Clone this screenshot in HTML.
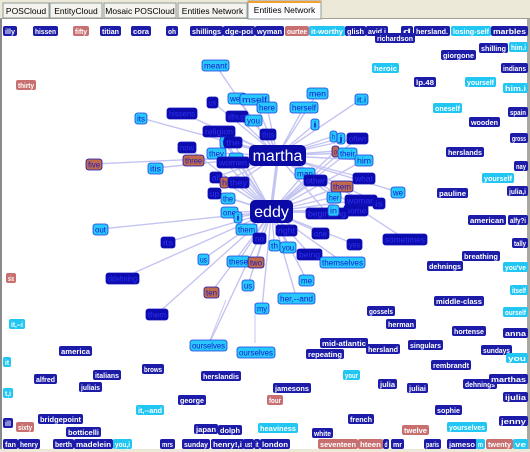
<!DOCTYPE html>
<html><head><meta charset="utf-8"><style>
html,body{margin:0;padding:0;background:#ece9d8;}
svg{display:block;font-family:"Liberation Sans",sans-serif;}
</style></head><body>
<svg id="s" width="530" height="452" viewBox="0 0 530 452">
<rect x="0" y="0" width="530" height="452" fill="#ece9d8"/>
<rect x="2" y="19" width="525" height="430" fill="#ffffff"/>
<rect x="0" y="19" width="2" height="430" fill="#8a8a8a"/>
<rect x="527" y="19" width="3" height="430" fill="#a8a8a0"/>
<line x1="0" y1="18.5" x2="530" y2="18.5" stroke="#a0a090"/>
<g id="tabs"></g>
<g id="edges"></g>
<g id="nodes"></g>
</svg>
<script>
const tabLabels=["POSCloud","EntityCloud","Mosaic POSCloud","Entities Network","Entities Network"];
const tabX=[3,50,104,178,248];
const tabW=[46,52,72,69,73];
// outer nodes: label, x, y, w, type (d dark, c cyan, r red)
const outerNodes=[
["illy",3,26,14,"d"],["hissen",33,26,25,"d"],["fifty",73,26,16,"r"],["titian",100,26,21,"d"],["cora",131,26,20,"d"],["oh",166,26,12,"d"],["shillings",190,26,33,"d"],["dge-poi",223,26,32,"d"],["wyman",255,26,29,"d"],["ourtee",285,26,24,"r"],["it-worthy",309,26,36,"c"],["glish",345,26,21,"d"],["avid i",366,26,22,"d"],["d",401,26,12,"d"],["hersland.",414,26,36,"d"],["losing-self",451,26,40,"c"],["marbles",491,26,37,"d"],
["richardson",375,33,40,"d"],["shilling",479,43,29,"d"],["him.i",509,42,19,"c"],["giorgone",441,50,35,"d"],["indians",501,63,27,"d"],["heroic",372,63,27,"c"],["lp.48",414,77,22,"d"],["yourself",465,77,31,"c"],["him.i",503,83,25,"c"],["thirty",16,80,20,"r"],["oneself",433,103,29,"c"],["spain",508,107,20,"d"],["wooden",469,117,31,"d"],["gross",510,133,18,"d"],["herslands",446,147,38,"d"],["nay",514,161,14,"d"],["yourself",482,173,32,"c"],["julia,i",507,186,21,"d"],["pauline",437,188,31,"d"],["american",468,215,38,"d"],["alfy?i",508,215,20,"d"],["tally",512,238,16,"d"],["breathing",462,251,38,"d"],["dehnings",427,261,36,"d"],["you've",503,262,25,"c"],["itself",510,285,18,"c"],["six",6,273,10,"r"],["middle-class",434,296,50,"d"],["ourself",503,307,25,"c"],["gossels",367,306,28,"d"],["herman",386,319,30,"d"],["hortense",452,326,34,"d"],["anna",503,328,25,"d"],["mid-atlantic",320,338,48,"d"],["hersland",366,344,34,"d"],["singulars",408,340,35,"d"],["sundays",481,345,31,"d"],["you",506,353,22,"c"],["repeating",306,349,38,"d"],["rembrandt",431,360,40,"d"],["your",343,370,17,"c"],["julia",378,379,19,"d"],["juliai",407,383,21,"d"],["dehnings",463,379,34,"d"],["marthas",489,374,39,"d"],["jamesons",273,383,38,"d"],["four",267,395,16,"r"],["ijulia",503,392,25,"d"],["sophie",435,405,27,"d"],["french",348,414,26,"d"],["jenny",499,416,29,"d"],["twelve",402,425,27,"r"],["yourselves",447,422,40,"c"],["heaviness",258,423,40,"c"],["white",312,428,21,"d"],["japan",194,424,24,"d"],["dolph",218,425,24,"d"],["it,--and",136,405,28,"c"],["george",178,395,28,"d"],["herslandis",201,371,40,"d"],["brows",142,364,22,"d"],["italians",93,370,28,"d"],["juliais",79,382,23,"d"],["alfred",34,374,23,"d"],["america",59,346,33,"d"],["it,--i",9,319,16,"c"],["it",3,357,8,"c"],["t,i",3,388,10,"c"],["bridgepoint",38,414,45,"d"],["sixty",16,422,18,"r"],["ill",3,418,10,"d"],["botticelli",66,427,35,"d"],
["fan",3,439,15,"d"],["henry",18,439,22,"d"],["berth",53,439,21,"d"],["madelein",74,439,39,"d"],["you,i",113,439,19,"c"],["mrs",160,439,15,"d"],["sunday",182,439,28,"d"],["henry!,i",211,439,33,"d"],["ust",243,439,11,"d"],["it",254,439,6,"d"],["london",260,439,30,"d"],["seventeen",318,439,40,"r"],["hteen",358,439,25,"r"],["d",383,439,6,"d"],["mr",391,439,13,"d"],["paris",424,439,17,"d"],["jameso",447,439,30,"d"],["m",476,439,9,"c"],["twenty",486,439,27,"r"],["ve",513,439,15,"c"]
];
// inner network nodes: label, x, y, w, type, linkedTo (m martha, e eddy, b both, n none)
const innerNodes=[
["meant",202,60,27,"c","m"],["us",207,97,11,"d","m"],["well",228,93,18,"c","m"],["mself",240,94,29,"c","m"],["here",257,102,20,"c","m"],["men",307,88,21,"c","m"],["herself",290,102,28,"c","m"],["it.i",355,94,13,"c","m"],["hissens",167,108,30,"d","m"],["its",135,113,12,"c","m"],["although",226,111,22,"d","m"],["you",245,115,17,"c","m"],["i",311,119,8,"c","m"],["religion",203,126,32,"d","b"],["this",260,129,16,"d","m"],["h",330,131,7,"c","m"],["j",337,133,8,"c","m"],["often",347,133,21,"d","b"],["t",220,137,8,"c","b"],["the",224,137,18,"d","b"],["now",178,142,18,"d","e"],["they",207,148,19,"c","b"],["three",183,155,21,"r","m"],["five",86,159,16,"r","m"],["itis",148,163,15,"c","m"],["o",229,153,14,"c","b"],["women",217,157,32,"d","b"],["o",332,146,7,"r","b"],["their",338,148,19,"c","b"],["him",355,155,18,"c","b"],["all",210,172,12,"d","b"],["h",220,177,9,"r","b"],["they",228,177,21,"d","b"],["man",295,168,20,"c","b"],["other",304,175,23,"d","b"],["what",353,173,22,"d","b"],["them",331,181,22,"r","b"],["up",208,188,13,"d","e"],["the",221,193,14,"c","e"],["her",327,192,14,"c","b"],["woman",345,195,32,"d","b"],["is",373,198,12,"d","m"],["some",344,205,24,"d","e"],["we",391,187,14,"c","m"],["beginning",306,208,42,"d","b"],["in",328,205,11,"c","e"],["one",221,207,17,"c","e"],["i",234,212,8,"c","e"],["out",93,224,15,"c","e"],["them",236,224,21,"c","e"],["right",276,225,21,"d","e"],["one",312,228,17,"d","e"],["sometimes",383,234,44,"d","m"],["its",161,237,14,"d","e"],["no",253,233,13,"d","e"],["th",269,240,11,"c","e"],["you",280,242,16,"c","e"],["yes",347,239,15,"d","e"],["being",297,249,25,"d","e"],["themselves",320,257,45,"c","e"],["us",198,254,11,"c","e"],["these",227,256,23,"c","e"],["two",248,257,16,"r","e"],["ddehning",106,273,33,"d","e"],["us",242,280,12,"c","e"],["me",299,275,15,"c","e"],["ten",204,287,15,"r","e"],["her,--and",278,293,37,"c","e"],["them",146,309,22,"d","e"],["my",255,303,14,"c","e"],["ourselves",190,340,37,"c","e"],["ourselves",237,347,38,"c","n"]
];
const hubs=[["martha",249,145,57,21],["eddy",250,200,43,23]];
const NS="http://www.w3.org/2000/svg";
function mk(tag,attrs,parent){const e=document.createElementNS(NS,tag);for(const k in attrs)e.setAttribute(k,attrs[k]);parent.appendChild(e);return e;}
const gT=document.getElementById('tabs'),gE=document.getElementById('edges'),gN=document.getElementById('nodes');
tabLabels.forEach((t,i)=>{
  const active=i===4;
  const g=mk('g',{},gT);
  
  
  const y=active?1:3;
  mk('rect',{x:tabX[i],y:y,width:tabW[i],height:active?18:15,fill:active?'#fcfcfe':'#f4f3ee',stroke:'#919b9c','stroke-width':1},g);
  if(active)mk('rect',{x:tabX[i],y:1,width:tabW[i],height:2,fill:'#f0a030'},g);
  const tx=mk('text',{x:tabX[i]+tabW[i]/2,y:active?13:14,'font-size':8.5,'text-anchor':'middle',fill:'#000'},g);
  tx.textContent=t;
});
// edges
innerNodes.forEach(n=>{
  const cx=n[1]+n[3]/2, cy=n[2]+5;
  const targets=n[5]==='m'?[0]:n[5]==='e'?[1]:n[5]==='b'?[0,1]:[];
  targets.forEach(h=>{
    const H=hubs[h];
    const l=mk('line',{x1:H[1]+H[3]/2,y1:H[2]+H[4]/2,x2:cx,y2:cy,stroke:'#c4c4f2','stroke-width':1.4},gE);
    
    
  });
});
[[255,303,255,343],[210,340,226,300]].forEach(p=>{mk('line',{x1:p[0],y1:p[1],x2:p[2],y2:p[3],stroke:'#c4c4f2','stroke-width':1},gE);});
mk('line',{x1:278,y1:155,x2:271,y2:211,stroke:'#c4c4f2','stroke-width':3},gE);
const outerFill={d:'#1c1ca8',c:'#22c6f2',r:'#c87070'};
outerNodes.forEach(n=>{
  const g=mk('g',{},gN);
  
  
  mk('rect',{x:n[1],y:n[2],width:n[3],height:10,rx:2,fill:outerFill[n[4]]},g);
  const t=mk('text',{x:n[1]+n[3]/2,y:n[2]+8,'font-size':7.5,'text-anchor':'middle',fill:'#fff','font-weight':'bold',textLength:Math.max(3,n[3]-4),lengthAdjust:'spacingAndGlyphs'},g);
  t.textContent=n[0];
});
const innerFill={d:'#0c0cae',c:'#28c8fc',r:'#c06a4c'};
innerNodes.forEach(n=>{
  const g=mk('g',{},gN);
  
  
  mk('rect',{x:n[1],y:n[2],width:n[3],height:11,rx:2.5,fill:innerFill[n[4]],stroke:n[4]==='c'?'#1e3ee0':'#1010c0','stroke-width':0.8},g);
  const t=mk('text',{x:n[1]+n[3]/2,y:n[2]+8.5,'font-size':8,'text-anchor':'middle',fill:n[4]==='d'?'#2e2ef0':'#1a1ac8',textLength:Math.max(3,n[3]-4),lengthAdjust:'spacingAndGlyphs'},g);
  t.textContent=n[0];
});
hubs.forEach(h=>{
  const g=mk('g',{},gN);
  
  
  mk('rect',{x:h[1],y:h[2],width:h[3],height:h[4],rx:5,fill:'#0a0aa6'},g);
  const t=mk('text',{x:h[1]+h[3]/2,y:h[2]+h[4]/2+5.5,'font-size':16,'text-anchor':'middle',fill:'#fff'},g);
  t.textContent=h[0];
});
</script>
</body></html>
